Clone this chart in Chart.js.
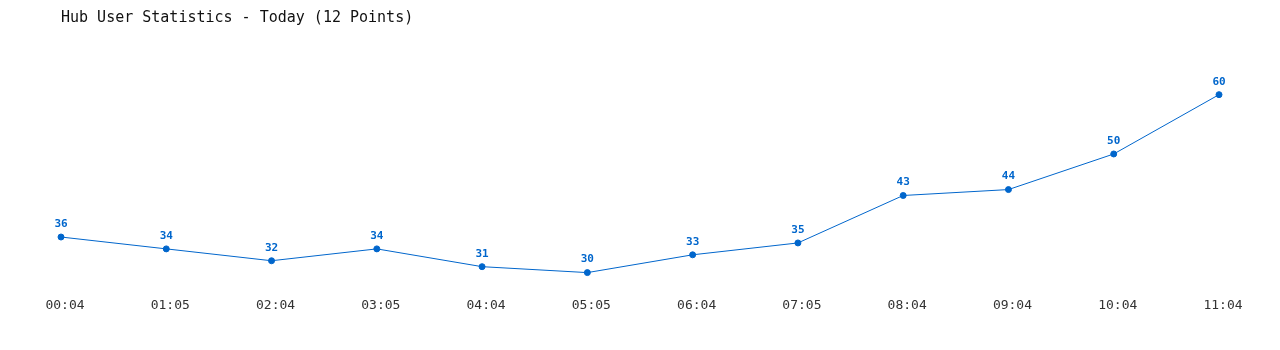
<!DOCTYPE html>
<html>
<head>
<meta charset="utf-8">
<script src="https://cdn.jsdelivr.net/npm/chart.js@4"></script>
<style>
  body { margin: 0; background: #fff; }
  #wrap { width: 1280px; height: 350px; }
</style>
</head>
<body>
<div id="wrap"><canvas id="hubChart"></canvas></div>
<script>
// dados do gráfico
const horarios = ['00:04', '01:05', '02:04', '03:05', '04:04', '05:05', '06:04', '07:05', '08:04', '09:04', '10:04', '11:04'];
const usuarios = [36, 34, 32, 34, 31, 30, 33, 35, 43, 44, 50, 60];
const tituloGrafico = 'Hub User Statistics - Today (12 Points)';

const azul = '#0066cc';
const fonteMono = '"DejaVu Sans Mono", "Liberation Mono", monospace';

// Rótulos de valor em cima de cada ponto
const rotulosPlugin = {
    id: 'rotulos',
    afterDatasetsDraw(chart) {
        const ctx = chart.ctx;
        const meta = chart.getDatasetMeta(0);
        ctx.save();
        ctx.font = 'bold 11px ' + fonteMono;
        ctx.fillStyle = azul;
        ctx.textAlign = 'center';
        ctx.textBaseline = 'middle';
        meta.data.forEach((pt, i) => {
            ctx.fillText(String(usuarios[i]), pt.x, pt.y - 13);
        });
        ctx.restore();
    }
};

const ctx = document.getElementById('hubChart').getContext('2d');
new Chart(ctx, {
    type: 'line',
    data: {
        labels: horarios,
        datasets: [{
            data: usuarios,
            borderColor: azul,
            borderWidth: 1,
            backgroundColor: azul,
            pointBackgroundColor: azul,
            pointBorderColor: azul,
            pointRadius: 3,
            pointBorderWidth: 1,
            tension: 0,
            fill: false
        }]
    },
    options: {
        responsive: true,
        maintainAspectRatio: false,
        animation: false,
        layout: { padding: { left: 61, right: 61, top: 0, bottom: 30 } },
        plugins: {
            legend: { display: false },
            tooltip: { enabled: false },
            title: {
                display: true,
                text: tituloGrafico,
                align: 'start',
                color: '#111',
                font: { family: fonteMono, size: 15, weight: 'normal' },
                padding: { top: 9, bottom: 38 }
            }
        },
        scales: {
            x: {
                offset: false,
                grid: { display: false, drawTicks: false },
                border: { display: false },
                ticks: {
                    color: '#333',
                    font: { family: fonteMono, size: 13 },
                    padding: 7,
                    labelOffset: 4,
                    maxRotation: 0,
                    autoSkip: false
                }
            },
            y: {
                display: false,
                min: 27,
                max: 65
            }
        }
    },
    plugins: [rotulosPlugin]
});
</script>
</body>
</html>
